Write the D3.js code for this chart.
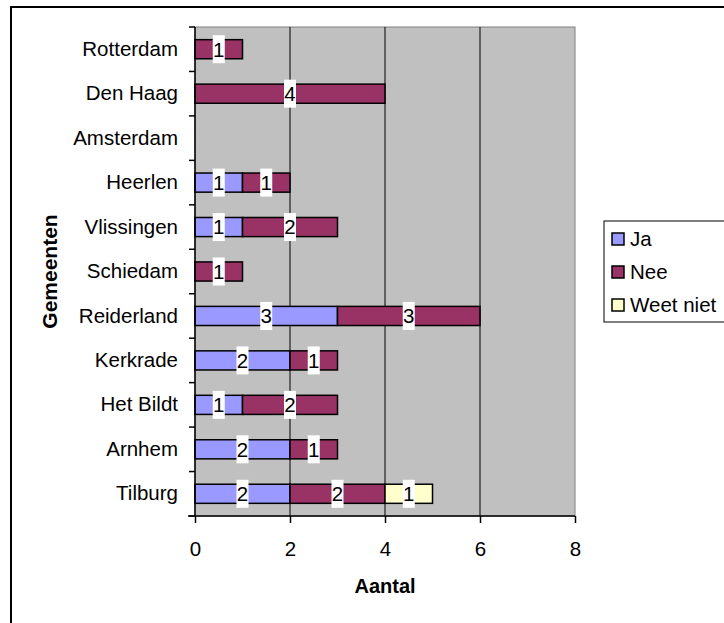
<!DOCTYPE html>
<html><head><meta charset="utf-8">
<script src="https://cdn.jsdelivr.net/npm/d3@7"></script>
<style>body{margin:0;background:#fff}svg{display:block}text{font-family:"Liberation Sans",Arial,sans-serif}</style>
</head><body>
<svg id="c" width="724" height="623"></svg>
<script>
const categories = ["Rotterdam","Den Haag","Amsterdam","Heerlen","Vlissingen","Schiedam","Reiderland","Kerkrade","Het Bildt","Arnhem","Tilburg"];
const ja       = [0,0,0,1,1,0,3,2,1,2,2];
const nee      = [1,4,0,1,2,1,3,1,2,1,2];
const weetNiet = [0,0,0,0,0,0,0,0,0,0,1];
const seriesNames = ["Ja","Nee","Weet niet"];
const seriesColors = ["#9999FF","#993366","#FFFFCC"];
const xTicks = [0,2,4,6,8];

const svg = d3.select("#c");
const L = 195, R = 575, T = 27, B = 516;
const FS = 20.5;
const x = d3.scaleLinear().domain([0,8]).range([L,R]);
const y = d3.scaleBand().domain(categories).range([T,B]).paddingInner(0.57).paddingOuter(0.285);

// outer border
svg.append("rect").attr("x",11).attr("y",7).attr("width",730).attr("height",640)
  .attr("fill","#fff").attr("stroke","#000").attr("stroke-width",2);

// plot area
svg.append("rect").attr("x",L).attr("y",T).attr("width",R-L).attr("height",B-T)
  .attr("fill","#C0C0C0").attr("stroke","#808080").attr("stroke-width",1);

// gridlines
svg.append("g").selectAll("line").data(xTicks.filter(d=>d>0&&d<8)).join("line")
  .attr("x1",d=>x(d)).attr("x2",d=>x(d)).attr("y1",T).attr("y2",B)
  .attr("stroke","#000").attr("stroke-width",1);

// stacked data
const rows = categories.map((c,i)=>({cat:c, Ja:ja[i], Nee:nee[i], "Weet niet":weetNiet[i]}));
const stack = d3.stack().keys(seriesNames)(rows);

const segs = [];
stack.forEach((s,si)=>s.forEach(d=>{ if(d[1]-d[0]>0) segs.push({si, x0:d[0], x1:d[1], cat:d.data.cat, v:d[1]-d[0]}); }));

svg.append("g").selectAll("rect").data(segs).join("rect")
  .attr("x",d=>x(d.x0)).attr("y",d=>y(d.cat)).attr("width",d=>x(d.x1)-x(d.x0)).attr("height",y.bandwidth())
  .attr("fill",d=>seriesColors[d.si]).attr("stroke","#000").attr("stroke-width",1.5);

// value labels
const lab = svg.append("g").selectAll("g").data(segs).join("g")
  .attr("transform",d=>`translate(${x((d.x0+d.x1)/2)},${y(d.cat)+y.bandwidth()/2})`);
lab.append("rect").attr("x",-6).attr("y",-14).attr("width",12).attr("height",28).attr("fill","#fff");
lab.append("text").attr("text-anchor","middle").attr("dy","0.36em").attr("font-size",FS).attr("fill","#000").text(d=>d.v);

// y axis
const ya = svg.append("g").attr("transform",`translate(${L},0)`)
  .call(d3.axisLeft(y).tickSize(0).tickPadding(17));
ya.select(".domain").remove();
ya.selectAll("text").attr("font-size",FS).attr("fill","#000").attr("font-family","Liberation Sans, Arial, sans-serif");
const yTickPos = d3.range(categories.length+1).map(i=>T + i*y.step());
svg.append("g").selectAll("line").data(yTickPos).join("line")
  .attr("x1",L-6).attr("x2",L).attr("y1",d=>d).attr("y2",d=>d).attr("stroke","#000").attr("stroke-width",1.5);
svg.append("line").attr("x1",L).attr("x2",L).attr("y1",T).attr("y2",B).attr("stroke","#000").attr("stroke-width",1.5);

// x axis
const xa = svg.append("g").attr("transform",`translate(0,${B})`)
  .call(d3.axisBottom(x).tickValues(xTicks).tickSize(7).tickPadding(18).tickSizeOuter(0));
xa.select(".domain").attr("stroke","#000").attr("stroke-width",1.5).attr("d",`M${L-7},0H${R}`);
xa.selectAll(".tick line").attr("stroke","#000").attr("stroke-width",1.5);
xa.selectAll("text").attr("font-size",FS).attr("fill","#000").attr("font-family","Liberation Sans, Arial, sans-serif");

// axis titles
svg.append("text").attr("x",(L+R)/2).attr("y",593).attr("text-anchor","middle")
  .attr("font-size",20).attr("font-weight","bold").text("Aantal");
svg.append("text").attr("transform",`translate(57,${(T+B)/2}) rotate(-90)`).attr("text-anchor","middle")
  .attr("font-size",21).attr("font-weight","bold").text("Gemeenten");

// legend
svg.append("rect").attr("x",604).attr("y",221).attr("width",140).attr("height",101)
  .attr("fill","#fff").attr("stroke","#000").attr("stroke-width",1);
const lg = svg.append("g").selectAll("g").data(seriesNames).join("g")
  .attr("transform",(d,i)=>`translate(612,${239+i*33})`);
lg.append("rect").attr("x",0).attr("y",-6).attr("width",12).attr("height",12)
  .attr("fill",(d,i)=>seriesColors[i]).attr("stroke","#000").attr("stroke-width",1.5);
lg.append("text").attr("x",18).attr("dy","0.36em").attr("font-size",FS).text(d=>d);
</script>
</body></html>
